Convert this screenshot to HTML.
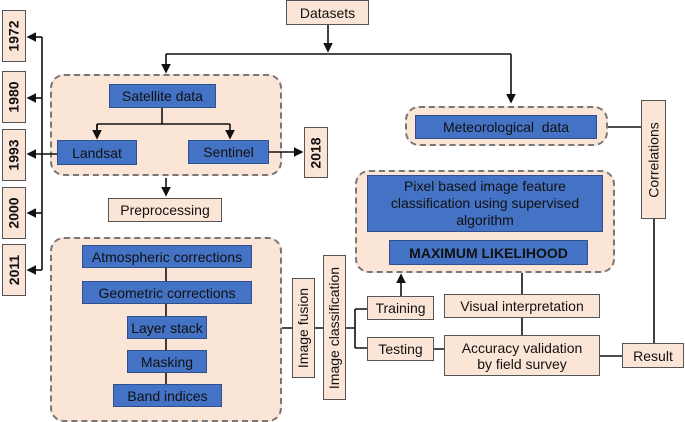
<!DOCTYPE html>
<html><head><meta charset="utf-8"><style>
body{margin:0;width:685px;height:418px;background:#fff;position:relative;overflow:hidden;font-family:"Liberation Sans",Arial,sans-serif;color:#111}
.b{position:absolute;box-sizing:border-box;background:#fbe5d6;border:1.3px solid #555;display:flex;align-items:center;justify-content:center;text-align:center;font-size:14px;line-height:16px}
.u{background:#4472c4;border:1.3px solid #2f4f8f;color:#111}
.d{position:absolute;box-sizing:border-box;background:#fbe5d6;border:2px dashed #777;border-radius:14px}
.v span{transform:rotate(-90deg);white-space:nowrap;display:block}
.y{font-weight:bold}
svg{position:absolute;left:0;top:0}
</style></head><body>
<div class="d" style="left:50px;top:74px;width:232px;height:102px"></div>
<div class="d" style="left:405px;top:106px;width:203px;height:40px"></div>
<div class="d" style="left:355px;top:170px;width:260px;height:103px"></div>
<div class="d" style="left:50px;top:237px;width:232px;height:185px"></div>
<svg width="685" height="418" stroke="#111" stroke-width="1.6" fill="none">
<defs><marker id="a" markerWidth="6" markerHeight="6" refX="5" refY="3" orient="auto"><path d="M0,0L6,3L0,6z" fill="#111" stroke="none"/></marker></defs>
<path d="M328 24V51" marker-end="url(#a)"/>
<path d="M166 54H511"/><path d="M166 54V72" marker-end="url(#a)"/><path d="M511 54V102" marker-end="url(#a)"/>
<path d="M162 108V124M97 124H230M97 124V138" /><path d="M97 124V138" marker-end="url(#a)"/><path d="M230 124V138" marker-end="url(#a)"/>
<path d="M269 152H302" marker-end="url(#a)"/>
<path d="M57 154H28" marker-end="url(#a)"/>
<path d="M42 37V270"/>
<path d="M42 37H28" marker-end="url(#a)"/><path d="M42 98H28" marker-end="url(#a)"/><path d="M42 213H28" marker-end="url(#a)"/><path d="M42 270H28" marker-end="url(#a)"/>
<path d="M166 178V195" marker-end="url(#a)"/>
<path d="M166 268V281M166 304V316M166 339V350M166 373V384"/>
<path d="M282 328H292M315 328H323M346 328H355M355 309V348M355 309H367M355 348H367"/>
<path d="M401 296V275" marker-end="url(#a)"/>
<path d="M522 273V294M522 318V335M434 349H444M600 356H622M654 219V343M608 127H641"/>
</svg>
<div class="b y v" style="left:2px;top:10px;width:24px;height:52px"><span>1972</span></div>
<div class="b y v" style="left:2px;top:71px;width:24px;height:52px"><span>1980</span></div>
<div class="b y v" style="left:2px;top:129px;width:24px;height:52px"><span>1993</span></div>
<div class="b y v" style="left:2px;top:187px;width:24px;height:52px"><span>2000</span></div>
<div class="b y v" style="left:2px;top:244px;width:24px;height:52px"><span>2011</span></div>
<div class="b y v" style="left:304px;top:127px;width:24px;height:51px"><span>2018</span></div>
<div class="b" style="left:286px;top:0;width:83px;height:25px">Datasets</div>
<div class="b u" style="left:109px;top:84px;width:107px;height:24px">Satellite data</div>
<div class="b u" style="left:57px;top:140px;width:80px;height:25px">Landsat</div>
<div class="b u" style="left:188px;top:140px;width:81px;height:24px">Sentinel</div>
<div class="b u" style="left:415px;top:115px;width:182px;height:24px">Meteorological&nbsp; data</div>
<div class="b v" style="left:641px;top:100px;width:25px;height:119px"><span>Correlations</span></div>
<div class="b" style="left:108px;top:198px;width:114px;height:24px">Preprocessing</div>
<div class="b u" style="left:82px;top:245px;width:170px;height:23px">Atmospheric corrections</div>
<div class="b u" style="left:82px;top:281px;width:170px;height:23px">Geometric corrections</div>
<div class="b u" style="left:127px;top:316px;width:80px;height:23px">Layer stack</div>
<div class="b u" style="left:127px;top:350px;width:80px;height:23px">Masking</div>
<div class="b u" style="left:113px;top:384px;width:109px;height:23px">Band indices</div>
<div class="b v" style="left:292px;top:278px;width:23px;height:100px"><span>Image fusion</span></div>
<div class="b v" style="left:323px;top:255px;width:23px;height:145px"><span>Image classification</span></div>
<div class="b" style="left:367px;top:296px;width:67px;height:24px">Training</div>
<div class="b" style="left:367px;top:337px;width:67px;height:24px">Testing</div>
<div class="b" style="left:444px;top:294px;width:156px;height:24px">Visual interpretation</div>
<div class="b" style="left:444px;top:335px;width:156px;height:41px">Accuracy validation<br>by field survey</div>
<div class="b" style="left:622px;top:343px;width:62px;height:25px">Result</div>
<div class="b u" style="left:367px;top:175px;width:236px;height:57px;line-height:17px">Pixel based image feature<br>classification using supervised<br>algorithm</div>
<div class="b u" style="left:389px;top:240px;width:199px;height:25px;font-weight:bold">MAXIMUM LIKELIHOOD</div>
</body></html>
